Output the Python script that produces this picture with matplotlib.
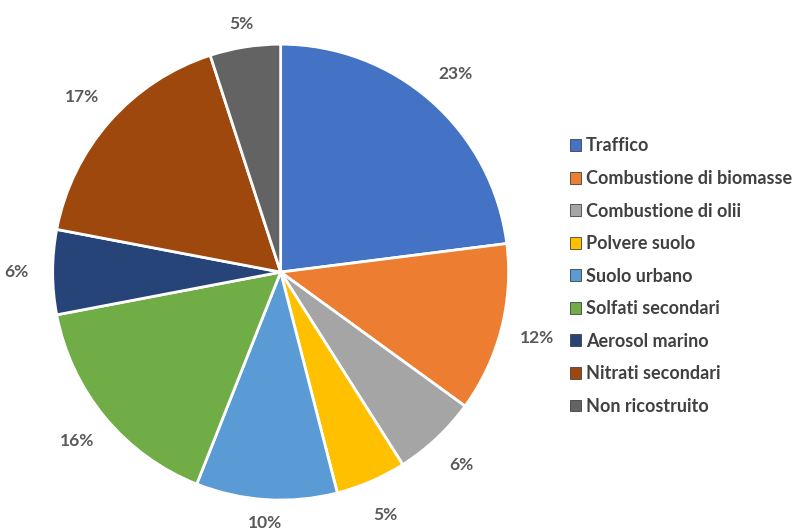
import matplotlib
matplotlib.use('Agg')
import matplotlib.pyplot as plt

plt.rcParams['font.family'] = ['Lato', 'DejaVu Sans']

# sorgenti e quote percentuali
categorie = ['Traffico', 'Combustione di biomasse', 'Combustione di olii',
             'Polvere suolo', 'Suolo urbano', 'Solfati secondari',
             'Aerosol marino', 'Nitrati secondari', 'Non ricostruito']
quote = [23, 12, 6, 5, 10, 16, 6, 17, 5]
colori = ['#4472C4', '#ED7D31', '#A5A5A5', '#FFC000', '#5B9BD5',
          '#70AD47', '#264478', '#9E480E', '#636363']

fig = plt.figure(figsize=(7.95, 5.32), dpi=100)
ax = fig.add_axes([0.066, 0.060, 0.574, 0.857])

wedges, _, autotexts = ax.pie(
    quote, colors=colori, startangle=90, counterclock=False,
    autopct='%1.0f%%', pctdistance=1.16, radius=1,
    wedgeprops=dict(edgecolor='white', linewidth=2),
    textprops=dict(fontsize=12.5, fontweight='bold', color='#595959'))
# etichette vicine ai bordi alto/basso un po' più dentro (come in Excel)
for i in (4, 8):
    x, y = autotexts[i].get_position()
    autotexts[i].set_position((x * 0.95, y * 0.95))
ax.set_xlim(-1, 1)
ax.set_ylim(-1, 1)
ax.set_aspect('equal')

leg = fig.legend(wedges, categorie, loc='center left', bbox_to_anchor=(0.717, 0.481),
                 frameon=False, handlelength=0.62, handleheight=0.62,
                 handletextpad=0.25, labelspacing=0.86, borderpad=0,
                 borderaxespad=0,
                 prop=dict(weight='bold', size=13), labelcolor='#404040')
for h in leg.legend_handles:
    h.set_edgecolor('#404040')
    h.set_linewidth(0.6)

fig.savefig('out.png', dpi=100, facecolor='white')
